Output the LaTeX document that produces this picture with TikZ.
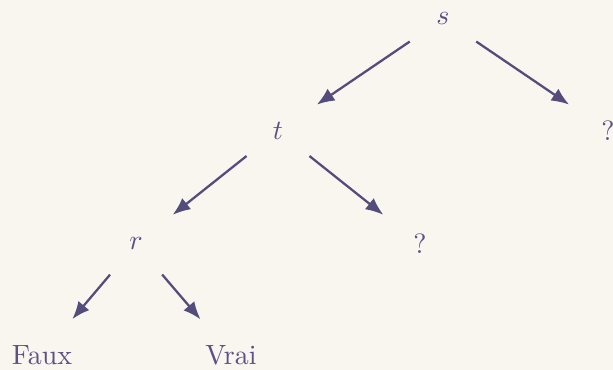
\documentclass[tikz,border=0pt]{standalone}
\usetikzlibrary{arrows.meta}
\definecolor{bgc}{HTML}{F9F5EF}
\definecolor{arc}{HTML}{544D7C}
\definecolor{txc}{HTML}{5A5285}
\begin{document}
\begin{tikzpicture}[x=0.373pt,y=-0.373pt,
  lbl/.style={text=txc,inner sep=0pt,scale=1.04},
  branch/.style={draw=arc,line width=0.85pt,-{Latex[length=6.6pt,width=5.3pt]},shorten <=15pt,shorten >=17.5pt}]
\fill[bgc] (0,0) rectangle (613,370);
\useasboundingbox (0,0) rectangle (613,370);
\node[lbl] (s) at (443,19) {$s$};
\node[lbl] (t) at (278,131) {$t$};
\node[lbl] (q1) at (608,131) {?};
\node[lbl] (r) at (136,244) {$r$};
\node[lbl] (q2) at (420,244) {?};
\node[lbl] (f) at (42,355) {Faux};
\node[lbl] (v) at (231,355) {Vrai};
\draw[branch] (s.center) -- (t.center);
\draw[branch] (s.center) -- (q1.center);
\draw[branch] (t.center) -- (r.center);
\draw[branch] (t.center) -- (q2.center);
\draw[branch] (r.center) -- (f.center);
\draw[branch] (r.center) -- (v.center);
\end{tikzpicture}
\end{document}
